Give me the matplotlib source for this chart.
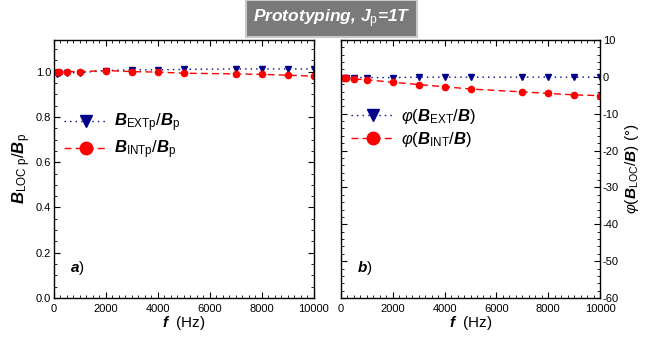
import numpy as np
import matplotlib
matplotlib.use('Agg')
from matplotlib import pyplot as plt
from matplotlib.ticker import MultipleLocator

plt.rcParams['font.family'] = ['Liberation Sans', 'DejaVu Sans']
plt.rcParams['mathtext.fontset'] = 'custom'
plt.rcParams['mathtext.rm'] = 'Liberation Sans'
plt.rcParams['mathtext.it'] = 'Liberation Sans:italic'
plt.rcParams['mathtext.bf'] = 'Liberation Sans:bold'
plt.rcParams['mathtext.bfit'] = 'Liberation Sans:bold:italic'
plt.rcParams['axes.unicode_minus'] = False

# data
freq = [100, 200, 500, 1000, 2000, 3000, 4000, 5000, 7000, 8000, 9000, 10000]
b_ext = [0.99, 0.995, 0.995, 0.995, 1.005, 1.008, 1.008, 1.01, 1.012, 1.012, 1.012, 1.012]
b_int = [0.998, 1.0, 1.0, 1.0, 1.005, 1.0, 0.998, 0.993, 0.99, 0.988, 0.984, 0.98]
phi_ext = [-0.3, -0.3, -0.2, -0.2, -0.2, -0.1, -0.1, -0.1, -0.1, -0.1, -0.1, -0.1]
phi_int = [-0.2, -0.4, -0.6, -0.8, -1.5, -2.1, -2.7, -3.3, -4.1, -4.5, -4.9, -5.1]

blue = '#00008b'
red = '#ff0000'

fig = plt.figure(figsize=(6.45, 3.4), dpi=100)
ax1 = fig.add_axes([0.0837, 0.1235, 0.403, 0.759])
ax2 = fig.add_axes([0.5287, 0.1235, 0.4016, 0.759])


def style_axis(ax):
    ax.set_xlim(0, 10000)
    ax.xaxis.set_major_locator(MultipleLocator(2000))
    ax.xaxis.set_minor_locator(MultipleLocator(250))
    ax.tick_params(which='both', direction='in', top=True, right=True, labelsize=8)
    ax.tick_params(which='major', length=4, width=0.8, pad=2)
    ax.tick_params(which='minor', length=2, width=0.6)
    ax.tick_params(axis='x', which='major', pad=4)
    for s in ax.spines.values():
        s.set_linewidth(1.0)
    ax.set_xlabel(r'$\mathbfit{f}$  (Hz)', fontsize=11, labelpad=0)


leg_kw = dict(loc='upper left', frameon=False, fontsize=12, markerscale=2.0,
              handlelength=2.6, handletextpad=0.4, labelspacing=0.25, borderaxespad=0.2)

# panel a
ax1.plot(freq, b_ext, ls=(0, (1, 3)), color=blue, marker='v', ms=4.5, lw=1,
         label=r'$\mathbfit{B}_{\mathrm{EXTp}}/\mathbfit{B}_{\mathrm{p}}$')
ax1.plot(freq, b_int, ls=(0, (5, 3)), color=red, marker='o', ms=4.5, lw=1,
         label=r'$\mathbfit{B}_{\mathrm{INTp}}/\mathbfit{B}_{\mathrm{p}}$')
style_axis(ax1)
ax1.set_ylim(0, 1.14)
ax1.yaxis.set_major_locator(MultipleLocator(0.2))
ax1.yaxis.set_minor_locator(MultipleLocator(0.05))
ax1.yaxis.set_major_formatter(matplotlib.ticker.FormatStrFormatter('%.1f'))
ax1.set_ylabel(r'$\mathbfit{B}_{\mathrm{LOC\ p}}/\mathbfit{B}_{\mathrm{p}}$', fontsize=12, labelpad=2)
ax1.legend(bbox_to_anchor=(0.0, 0.76), **leg_kw)
ax1.text(0.06, 0.10, r'$\mathbfit{a}$)', transform=ax1.transAxes, fontsize=11)

# panel b
ax2.plot(freq, phi_ext, ls=(0, (1, 3)), color=blue, marker='v', ms=4.5, lw=1,
         label=r'$\varphi(\mathbfit{B}_{\mathrm{EXT}}/\mathbfit{B})$')
ax2.plot(freq, phi_int, ls=(0, (5, 3)), color=red, marker='o', ms=4.5, lw=1,
         label=r'$\varphi(\mathbfit{B}_{\mathrm{INT}}/\mathbfit{B})$')
style_axis(ax2)
ax2.set_ylim(-60, 10)
ax2.yaxis.set_major_locator(MultipleLocator(10))
ax2.yaxis.set_minor_locator(MultipleLocator(2))
ax2.tick_params(axis='y', which='both', labelleft=False, labelright=True)
ax2.yaxis.set_label_position('right')
ax2.set_ylabel(r'$\varphi(\mathbfit{B}_{\mathrm{LOC}}/\mathbfit{B})$ (°)', fontsize=11, labelpad=3)
ax2.legend(bbox_to_anchor=(0.0, 0.78), **leg_kw)
ax2.text(0.06, 0.10, r'$\mathbfit{b}$)', transform=ax2.transAxes, fontsize=11)

# title box
fig.text(0.514, 0.945, r'Prototyping, $\mathbfit{J}_{\mathrm{p}}$=1T', ha='center', va='center',
         fontsize=12.5, fontweight='bold', fontstyle='italic', color='white',
         bbox=dict(boxstyle='square,pad=0.4', facecolor='#7a7a7a', edgecolor='#c8c8c8', lw=1.5))

plt.savefig('out.png', dpi=100)
